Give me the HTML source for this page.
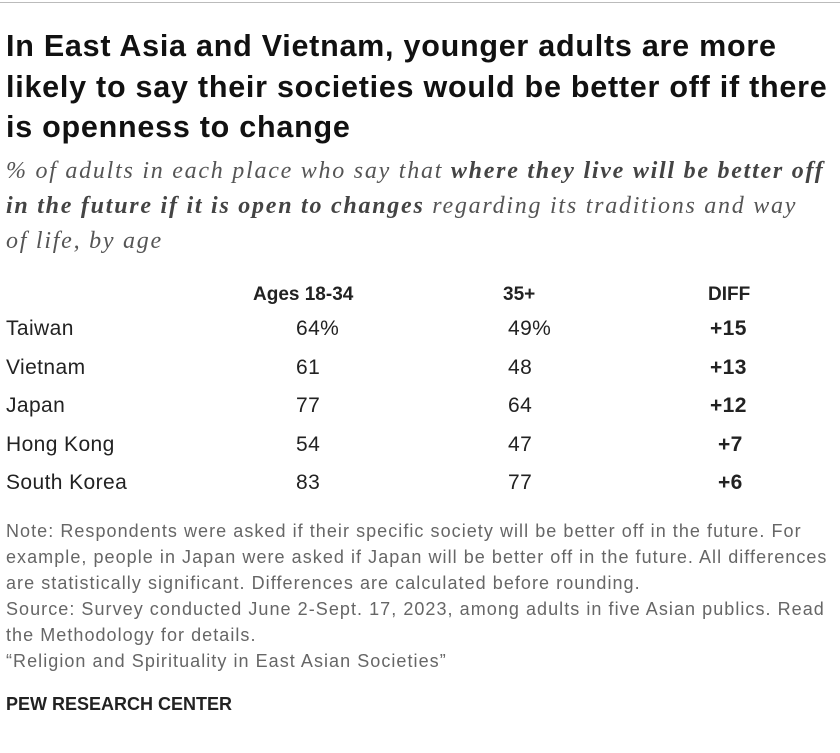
<!DOCTYPE html>
<html><head><meta charset="utf-8"><style>
body{margin:0;width:840px;height:753px;background:#fff;font-family:"Liberation Sans",sans-serif;color:#222;position:relative;overflow:hidden}
.a{position:absolute;white-space:nowrap}
#topline{left:0;top:2px;width:840px;height:1px;background:#bbb}
#title{left:6px;top:26px;font-size:30.5px;letter-spacing:0.75px;font-weight:bold;line-height:40.5px;color:#111}
#sub{left:6px;top:154px;font-family:"Liberation Serif",serif;font-style:italic;font-size:24px;letter-spacing:1.75px;line-height:35px;color:#555}
#sub b{color:#444}
.h{font-weight:bold;font-size:19px;top:284px}
.cell{font-size:21px;letter-spacing:0.4px}
.note{left:6px;font-size:18px;letter-spacing:1.05px;color:#666;line-height:26px}
</style></head><body>
<div class="a" id="topline"></div>
<div class="a" id="title">In East Asia and Vietnam, younger adults are more<br>likely to say their societies would be better off if there<br>is openness to change</div>
<div class="a" id="sub">% of adults in each place who say that <b>where they live will be better off</b><br><b>in the future if it is open to changes</b> regarding its traditions and way<br>of life, by age</div>
<div class="a h" style="left:253px">Ages 18-34</div>
<div class="a h" style="left:503px">35+</div>
<div class="a h" style="left:708px">DIFF</div>
<div id="rows"></div>
<div class="a note" style="top:518px">Note: Respondents were asked if their specific society will be better off in the future. For<br>example, people in Japan were asked if Japan will be better off in the future. All differences<br>are statistically significant. Differences are calculated before rounding.<br>Source: Survey conducted June 2-Sept. 17, 2023, among adults in five Asian publics. Read<br>the Methodology for details.<br>“Religion and Spirituality in East Asian Societies”</div>
<div class="a" style="left:6px;top:694px;font-size:18px;font-weight:bold;color:#222">PEW RESEARCH CENTER</div>
<script>
const places=["Taiwan","Vietnam","Japan","Hong Kong","South Korea"];
const young=[64,61,77,54,83];
const older=[49,48,64,47,77];
const diffs=[15,13,12,7,6];
const root=document.getElementById('rows');
function add(txt,left,top,name,bold){
  const d=document.createElement('div');
  d.className='a cell';
  d.style.left=left+'px';d.style.top=top+'px';
  if(bold)d.style.fontWeight='bold';
  d.textContent=txt;
  
  
  root.appendChild(d);
}
places.forEach((p,i)=>{
  const y=317+i*38.6;
  add(p,6,y,'row-label');
  add(young[i]+(i===0?'%':''),296,y,'value-18-34');
  add(older[i]+(i===0?'%':''),508,y,'value-35-plus');
  add('+'+diffs[i],diffs[i]>=10?710:718,y,'value-diff',true);
});
</script>
</body></html>
